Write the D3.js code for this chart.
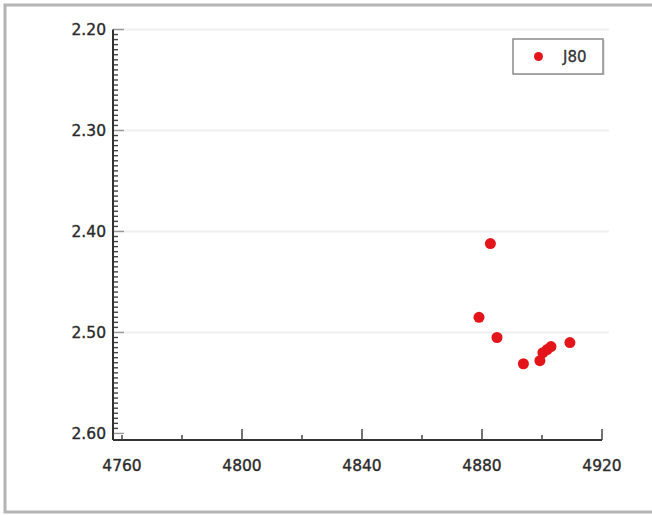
<!DOCTYPE html>
<html>
<head>
<meta charset="utf-8">
<script src="https://cdn.jsdelivr.net/npm/d3@7"></script>
<style>
  html, body { margin: 0; padding: 0; background: #fff; }
  svg { display: block; }
  text { font-family: "DejaVu Sans", sans-serif; }
</style>
</head>
<body>
<svg id="chart" width="652" height="515"></svg>
<script>
// Series J80: temperature (x) vs. value (y)
const seriesName = "J80";
const xValues = [4882.8, 4879.0, 4885.0, 4893.8, 4899.3, 4900.3, 4901.7, 4903.0, 4909.3];
const yValues = [2.412, 2.485, 2.505, 2.531, 2.528, 2.520, 2.517, 2.514, 2.510];

const xTickLabels = [4760, 4800, 4840, 4880, 4920];
const yTickLabels = [2.20, 2.30, 2.40, 2.50, 2.60];

const svg = d3.select("#chart");

// outer frame
svg.append("rect")
  .attr("x", 5).attr("y", 5)
  .attr("width", 652).attr("height", 507)
  .attr("fill", "#fff")
  .attr("stroke", "#b4b4b4")
  .attr("stroke-width", 3);

const x = d3.scaleLinear().domain([4757, 4920]).range([113, 602]);
const y = d3.scaleLinear().domain([2.2, 2.6065]).range([29.5, 440]);

// horizontal grid lines
svg.append("g")
  .selectAll("line")
  .data(yTickLabels.slice(0, 4))
  .join("line")
  .attr("x1", x(4757)).attr("x2", 609)
  .attr("y1", d => y(d)).attr("y2", d => y(d))
  .attr("stroke", "#f0f0f0")
  .attr("stroke-width", 2);

// y axis: minor ticks every 0.005, major every 0.1, drawn inward
const yMinor = d3.range(0, 81).map(i => +(2.2 + i * 0.005).toFixed(3));
const yAxis = svg.append("g").attr("transform", `translate(${x(4757)},0)`);
yAxis.selectAll("line.minor")
  .data(yMinor)
  .join("line")
  .attr("class", "minor")
  .attr("x1", 0).attr("x2", d => (Math.round(d * 1000) % 100 === 0) ? 11 : 5)
  .attr("y1", d => y(d)).attr("y2", d => y(d))
  .attr("stroke", d => (Math.round(d * 1000) % 100 === 0) ? "#999" : "#444")
  .attr("stroke-width", 1.4);
yAxis.append("line")
  .attr("x1", 0).attr("x2", 0)
  .attr("y1", y(2.2)).attr("y2", y(2.6065))
  .attr("stroke", "#333").attr("stroke-width", 2);
yAxis.selectAll("text")
  .data(yTickLabels)
  .join("text")
  .attr("x", -7)
  .attr("y", d => y(d))
  .attr("dy", "0.36em")
  .attr("text-anchor", "end")
  .attr("font-size", 15.5)
  .attr("fill", "#2a2a2a")
  .attr("stroke", "#2a2a2a")
  .attr("stroke-width", 0.35)
  .text(d => d3.format(".2f")(d));

// x axis: ticks every 20, taller every 40, drawn inward
const xTicks = d3.range(4760, 4921, 20);
const xAxis = svg.append("g").attr("transform", `translate(0,${y(2.6065)})`);
xAxis.append("line")
  .attr("x1", x(4757)).attr("x2", x(4920))
  .attr("y1", 0).attr("y2", 0)
  .attr("stroke", "#333").attr("stroke-width", 2);
xAxis.selectAll("line.tick")
  .data(xTicks)
  .join("line")
  .attr("class", "tick")
  .attr("x1", d => x(d)).attr("x2", d => x(d))
  .attr("y1", 0)
  .attr("y2", d => (d === 4760) ? -5 : ((d - 4760) % 40 === 0 ? -11 : -5))
  .attr("stroke", "#444")
  .attr("stroke-width", 1.5);
xAxis.selectAll("text")
  .data(xTickLabels)
  .join("text")
  .attr("x", d => x(d))
  .attr("y", 31)
  .attr("text-anchor", "middle")
  .attr("font-size", 15.5)
  .attr("fill", "#2a2a2a")
  .attr("stroke", "#2a2a2a")
  .attr("stroke-width", 0.35)
  .text(d => d);

// data points
svg.append("g")
  .selectAll("circle")
  .data(xValues.map((v, i) => [v, yValues[i]]))
  .join("circle")
  .attr("cx", d => x(d[0]))
  .attr("cy", d => y(d[1]))
  .attr("r", 5.5)
  .attr("fill", "#e3151b");

// legend
const legend = svg.append("g").attr("transform", "translate(513,39)");
legend.append("rect")
  .attr("x", 1).attr("y", 1)
  .attr("width", 91).attr("height", 35)
  .attr("fill", "#e6e6e6");
legend.append("rect")
  .attr("width", 90).attr("height", 35)
  .attr("fill", "#fff")
  .attr("stroke", "#8c8c8c")
  .attr("stroke-width", 1.5);
legend.append("circle")
  .attr("cx", 25.5).attr("cy", 17.5)
  .attr("r", 4.5)
  .attr("fill", "#e3151b");
legend.append("text")
  .attr("x", 50).attr("y", 17.5)
  .attr("dy", "0.36em")
  .attr("font-size", 15)
  .attr("fill", "#333")
  .attr("stroke", "#333")
  .attr("stroke-width", 0.3)
  .text(seriesName);
</script>
</body>
</html>
